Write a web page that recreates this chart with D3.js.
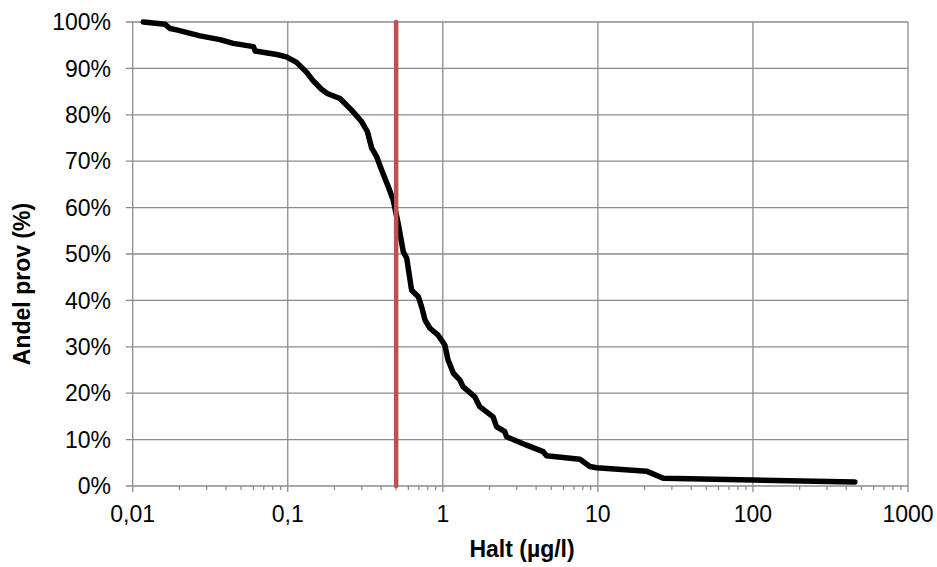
<!DOCTYPE html>
<html lang="sv">
<head>
<meta charset="UTF-8">
<title>Andel prov</title>
<script src="https://cdn.jsdelivr.net/npm/d3@7"></script>
<style>
  body { margin: 0; background: #fff; }
  svg text { font-family: Arial, "Liberation Sans", sans-serif; fill: #000; }
  .tick-label { font-size: 23px; }
  .axis-title { font-size: 23px; font-weight: bold; }
</style>
</head>
<body>
<svg id="chart" width="937" height="567"></svg>
<script>
// halt (µg/l), sorterad stigande
var halt = [0.0117, 0.0162, 0.0174, 0.0192, 0.0272, 0.0366, 0.0445, 0.060, 0.0616, 0.085,
            0.098, 0.114, 0.132, 0.146, 0.165, 0.180, 0.217, 0.258, 0.300, 0.326,
            0.348, 0.374, 0.403, 0.445, 0.479, 0.516, 0.556, 0.585, 0.629, 0.695,
            0.73, 0.767, 0.826, 0.933, 1.03, 1.08, 1.17, 1.29, 1.35, 1.61,
            1.73, 2.11, 2.22, 2.51, 2.58, 3.47, 4.44, 4.67, 7.66, 8.88,
            9.8, 20.6, 26.4, 100, 454];
// andel prov (%) som överskrider halten
var andel = [100, 99.5, 98.6, 98.3, 97.0, 96.2, 95.4, 94.7, 93.75, 93.0,
             92.5, 91.3, 89.2, 87.3, 85.5, 84.6, 83.5, 81.0, 78.5, 76.4,
             72.8, 71.0, 68.1, 64.5, 61.6, 56.5, 50.5, 49.1, 42.2, 40.8,
             38.6, 35.8, 34.0, 32.5, 30.4, 27.2, 24.3, 22.8, 21.4, 19.2,
             17.1, 14.9, 12.8, 11.7, 10.6, 8.8, 7.4, 6.5, 5.75, 4.2,
             3.95, 3.2, 1.66, 1.3, 0.86];
var xTicks = [0.01, 0.1, 1, 10, 100, 1000];
var xTickLabels = ["0,01", "0,1", "1", "10", "100", "1000"];
var yTicks = [0, 10, 20, 30, 40, 50, 60, 70, 80, 90, 100];
var gransvarde = 0.5;

(function() {
  var svg = d3.select("#chart");
  var mLeft = 132.7, mRight = 908, mTop = 22, mBottom = 486;

  var x = d3.scaleLog().domain([0.01, 1000]).range([mLeft, mRight]);
  var y = d3.scaleLinear().domain([0, 100]).range([mBottom, mTop]);

  var gridColor = "#8c8c8c";

  // gridlines
  svg.selectAll(".hgrid").data(yTicks).enter().append("line")
    .attr("x1", mLeft - 7).attr("x2", mRight)
    .attr("y1", function(d) { return y(d); }).attr("y2", function(d) { return y(d); })
    .attr("stroke", gridColor).attr("stroke-width", 1.3);

  svg.selectAll(".vgrid").data(xTicks).enter().append("line")
    .attr("x1", function(d) { return x(d); }).attr("x2", function(d) { return x(d); })
    .attr("y1", mTop).attr("y2", mBottom + 6)
    .attr("stroke", gridColor).attr("stroke-width", 1.3);

  // minor ticks on x axis
  var minor = [];
  xTicks.slice(0, -1).forEach(function(d) {
    for (var k = 2; k <= 9; k++) minor.push(d * k);
  });
  svg.selectAll(".minor").data(minor).enter().append("line")
    .attr("x1", function(d) { return x(d); }).attr("x2", function(d) { return x(d); })
    .attr("y1", mBottom).attr("y2", mBottom + 4)
    .attr("stroke", gridColor).attr("stroke-width", 1.3);

  // tick labels
  svg.selectAll(".ylab").data(yTicks).enter().append("text")
    .attr("class", "tick-label")
    .attr("x", 111).attr("y", function(d) { return y(d); })
    .attr("dy", "0.36em")
    .attr("text-anchor", "end")
    .text(function(d) { return d + "%"; });

  svg.selectAll(".xlab").data(xTicks).enter().append("text")
    .attr("class", "tick-label")
    .attr("x", function(d) { return x(d); }).attr("y", 522)
    .attr("text-anchor", "middle")
    .text(function(d, i) { return xTickLabels[i]; });

  // axis titles
  svg.append("text").attr("class", "axis-title")
    .attr("x", 522).attr("y", 557)
    .attr("text-anchor", "middle")
    .text("Halt (µg/l)");

  svg.append("text").attr("class", "axis-title")
    .attr("transform", "translate(30,284) rotate(-90)")
    .attr("text-anchor", "middle")
    .text("Andel prov (%)");

  // curve
  var pts = halt.map(function(d, i) { return [d, andel[i]]; });
  var line = d3.line()
    .x(function(d) { return x(d[0]); })
    .y(function(d) { return y(d[1]); });

  svg.append("path").datum(pts)
    .attr("d", line)
    .attr("fill", "none")
    .attr("stroke", "#000")
    .attr("stroke-width", 5.5)
    .attr("stroke-linejoin", "round")
    .attr("stroke-linecap", "round");

  // red limit line
  svg.append("line")
    .attr("x1", x(gransvarde)).attr("x2", x(gransvarde))
    .attr("y1", y(100)).attr("y2", y(0))
    .attr("stroke", "#C0504D")
    .attr("stroke-width", 4.5)
    .attr("stroke-linecap", "round");
})();
</script>
</body>
</html>
